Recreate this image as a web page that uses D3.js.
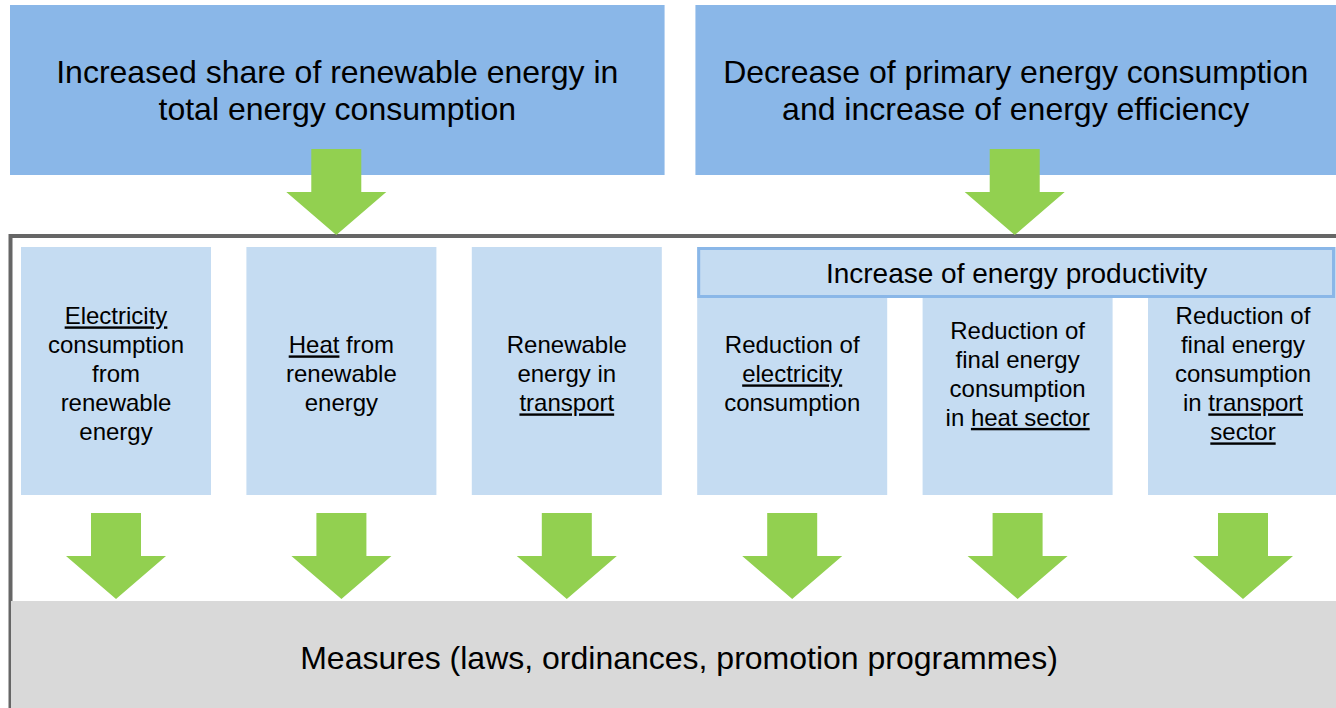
<!DOCTYPE html>
<html>
<head>
<meta charset="utf-8">
<script src="https://cdn.jsdelivr.net/npm/d3@7"></script>
<style>
  body { margin: 0; background: #fff; }
  svg { display: block; font-family: "Liberation Sans", Arial, sans-serif; }
</style>
</head>
<body>
<svg id="diagram" width="1336" height="708"></svg>
<script>
// Diagram content - top goals, target columns, bottom measures
// text between underscores is underlined
var goals = [
  ["Increased share of renewable energy in", "total energy consumption"],
  ["Decrease of primary energy consumption", "and increase of energy efficiency"]
];

var columns = [
  ["_Electricity_", "consumption", "from", "renewable", "energy"],
  ["_Heat_ from", "renewable", "energy"],
  ["Renewable", "energy in", "_transport_"],
  ["Reduction of", "_electricity_", "consumption"],
  ["Reduction of", "final energy", "consumption", "in _heat sector_"],
  ["Reduction of", "final energy", "consumption", "in _transport_", "_sector_"]
];

var productivityLabel = "Increase of energy productivity";
var productivityCols = [3, 4, 5];   // columns sitting under the productivity bar
var measuresLabel = "Measures (laws, ordinances, promotion programmes)";

// colours
var darkBlue = "#8AB7E8",
    lightBlue = "#C5DCF2",
    green = "#92D050",
    grey = "#D9D9D9",
    frameGrey = "#666666";

var svg = d3.select("#diagram");
var width = +svg.attr("width"),
    height = +svg.attr("height");

// Scales for the two goal boxes and the six columns
var xGoal = d3.scaleBand()
  .domain(d3.range(goals.length))
  .range([10, 1350])
  .paddingInner(0.045);

var xCol = d3.scaleBand()
  .domain(d3.range(columns.length))
  .range([21, 1338])
  .paddingInner(0.157);

// vertical layout
var goalTop = 5, goalBottom = 175;
var frameTop = 236;
var colTop = 247, colBottom = 495, prodBottom = 298;
var measuresTop = 601;

// down arrow as a polygon, tip at (cx, tipY)
function arrow(cx, tipY) {
  var shaft = 25, head = 50, shaftLen = 43, headLen = 43;
  var top = tipY - shaftLen - headLen, neck = tipY - headLen;
  return [
    [cx - shaft, top], [cx + shaft, top], [cx + shaft, neck], [cx + head, neck],
    [cx, tipY], [cx - head, neck], [cx - shaft, neck]
  ].join(" ");
}

// writes a line with underlined parts
function writeLine(textSel, line) {
  line.split("_").forEach(function(part, i) {
    if (!part) return;
    textSel.append("tspan")
      .style("text-decoration", i % 2 ? "underline" : "none")
      .text(part);
  });
}

// Outer frame (bottom edge hidden below the measures box)
svg.append("rect")
  .attr("x", 10.5)
  .attr("y", frameTop)
  .attr("width", width + 20)
  .attr("height", height)
  .attr("fill", "none")
  .attr("stroke", frameGrey)
  .attr("stroke-width", 4);

// Goal boxes
var goalG = svg.selectAll(".goal")
  .data(goals)
  .enter().append("g")
  .attr("class", "goal");

goalG.append("rect")
  .attr("x", function(d, i) { return xGoal(i); })
  .attr("y", goalTop)
  .attr("width", xGoal.bandwidth())
  .attr("height", goalBottom - goalTop)
  .attr("fill", darkBlue);

goalG.each(function(lines, i) {
  var x0 = xGoal(i), x1 = Math.min(x0 + xGoal.bandwidth(), width);
  var cy = (goalTop + goalBottom) / 2;
  d3.select(this).selectAll("text")
    .data(lines)
    .enter().append("text")
    .attr("x", (x0 + x1) / 2)
    .attr("y", function(d, j) { return cy + (j - (lines.length - 1) / 2) * 37; })
    .attr("dy", "0.35em")
    .attr("text-anchor", "middle")
    .attr("font-size", 32)
    .attr("fill", "#000")
    .text(function(d) { return d; });
});

// Column boxes
var colG = svg.selectAll(".col")
  .data(columns)
  .enter().append("g")
  .attr("class", "col");

colG.append("rect")
  .attr("x", function(d, i) { return xCol(i); })
  .attr("y", colTop)
  .attr("width", xCol.bandwidth())
  .attr("height", colBottom - colTop)
  .attr("fill", lightBlue);

colG.each(function(lines, i) {
  var cx = xCol(i) + xCol.bandwidth() / 2;
  var cy = (colTop + colBottom) / 2 + 3;
  d3.select(this).selectAll("text")
    .data(lines)
    .enter().append("text")
    .attr("x", cx)
    .attr("y", function(d, j) { return cy + (j - (lines.length - 1) / 2) * 29; })
    .attr("dy", "0.35em")
    .attr("text-anchor", "middle")
    .attr("font-size", 24)
    .attr("fill", "#000")
    .each(function(d) { writeLine(d3.select(this), d); });
});

// Productivity bar across the efficiency columns
var px0 = xCol(productivityCols[0]);
var px1 = Math.min(xCol(productivityCols[productivityCols.length - 1]) + xCol.bandwidth(), width);
svg.append("rect")
  .attr("x", px0 + 1.5)
  .attr("y", colTop + 1.5)
  .attr("width", px1 - px0 - 4)
  .attr("height", prodBottom - colTop - 3)
  .attr("fill", lightBlue)
  .attr("stroke", darkBlue)
  .attr("stroke-width", 3);

svg.append("text")
  .attr("x", (px0 + px1) / 2)
  .attr("y", (colTop + prodBottom) / 2 + 1)
  .attr("dy", "0.35em")
  .attr("text-anchor", "middle")
  .attr("font-size", 28)
  .attr("fill", "#000")
  .text(productivityLabel);

// Measures box
svg.append("rect")
  .attr("x", 11)
  .attr("y", measuresTop)
  .attr("width", width)
  .attr("height", height - measuresTop + 10)
  .attr("fill", grey);

svg.append("text")
  .attr("x", 679)
  .attr("y", 658)
  .attr("dy", "0.35em")
  .attr("text-anchor", "middle")
  .attr("font-size", 32)
  .attr("fill", "#000")
  .text(measuresLabel);

// Arrows from goals into the frame
svg.selectAll(".arrow-top")
  .data(goals)
  .enter().append("polygon")
  .attr("class", "arrow-top")
  .attr("points", function(d, i) {
    var x0 = xGoal(i), x1 = Math.min(x0 + xGoal.bandwidth(), width);
    return arrow((x0 + x1) / 2 - 1, frameTop - 1);
  })
  .attr("fill", green);

// Arrows from columns down to measures
svg.selectAll(".arrow-bottom")
  .data(columns)
  .enter().append("polygon")
  .attr("class", "arrow-bottom")
  .attr("points", function(d, i) {
    return arrow(xCol(i) + xCol.bandwidth() / 2, measuresTop - 2);
  })
  .attr("fill", green);
</script>
</body>
</html>
